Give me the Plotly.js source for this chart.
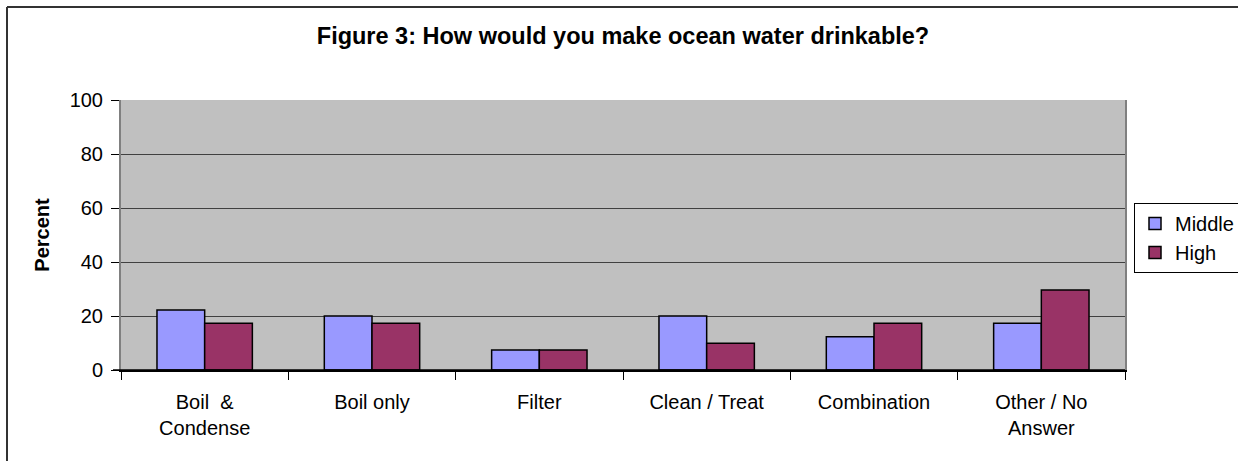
<!DOCTYPE html>
<html>
<head>
<meta charset="utf-8">
<script src="https://cdn.plot.ly/plotly-3.0.1.min.js"></script>
<style>
  html, body { margin: 0; padding: 0; background: #fff; }
  #chart { width: 1238px; height: 461px; }
</style>
</head>
<body>
<div id="chart"></div>
<script>
// Survey answers by school level (percent of respondents)
const categories = ["Boil  &<br>Condense", "Boil only", "Filter", "Clean / Treat", "Combination", "Other / No<br>Answer"];
const middleValues = [22.2, 20.0, 7.4, 20.0, 12.3, 17.3];
const highValues = [17.3, 17.3, 7.4, 9.9, 17.3, 29.6];
const yTicks = [0, 20, 40, 60, 80, 100];

const W = 1238, H = 461;
const M = { l: 121, r: 113, t: 100, b: 91, autoexpand: false };
const pw = W - M.l - M.r, ph = H - M.t - M.b;
const px = x => (x - M.l) / pw;          // pixel -> paper x
const py = y => 1 - (y - M.t) / ph;      // pixel -> paper y

const FONT = "Liberation Sans, Arial, sans-serif";

const traces = [
  {
    type: "bar", name: "Middle", x: categories, y: middleValues,
    marker: { color: "#9999FF", line: { color: "#000", width: 1.5 } },
    hoverinfo: "skip"
  },
  {
    type: "bar", name: "High", x: categories, y: highValues,
    marker: { color: "#993366", line: { color: "#000", width: 1.5 } },
    hoverinfo: "skip"
  }
];

const layout = {
  width: W, height: H,
  margin: M,
  paper_bgcolor: "#fff",
  plot_bgcolor: "#C0C0C0",
  font: { family: FONT, size: 20, color: "#000" },
  barmode: "group",
  bargap: 0.43,
  bargroupgap: 0,
  showlegend: true,
  title: {
    text: "<b>Figure 3: How would you make ocean water drinkable?</b>",
    font: { family: FONT, size: 23.5, color: "#000" },
    xref: "container", yref: "container",
    x: 623 / W, xanchor: "center",
    y: 1 - 36 / H, yanchor: "middle"
  },
  xaxis: {
    type: "category",
    tickson: "boundaries",
    ticks: "outside", ticklen: 8, tickcolor: "#000", tickwidth: 1,
    showline: true, linecolor: "#000", linewidth: 1.5,
    showgrid: false, zeroline: false,
    tickfont: { family: FONT, size: 20, color: "#000" },
    ticklabelstandoff: 13,
    fixedrange: true
  },
  yaxis: {
    range: [0, 100],
    tickvals: yTicks,
    ticktext: yTicks.map(String),
    ticks: "outside", ticklen: 8, tickcolor: "#000", tickwidth: 1,
    showline: true, linecolor: "#808080", linewidth: 2, mirror: true,
    showgrid: true, gridcolor: "#404040", gridwidth: 1,
    zeroline: false,
    tickfont: { family: FONT, size: 20, color: "#000" },
    ticklabelstandoff: 4,
    title: { text: "<b>Percent</b>", font: { family: FONT, size: 20, color: "#000" }, standoff: 15 },
    fixedrange: true
  },
  legend: {
    x: px(1134), y: py(203), xanchor: "left", yanchor: "top",
    bgcolor: "#fff", bordercolor: "#000", borderwidth: 1,
    font: { family: FONT, size: 20, color: "#000" },
    itemwidth: 30,
    tracegroupgap: 0
  },
  shapes: [
    // outer frame of the figure
    { type: "line", xref: "paper", yref: "paper", x0: px(7), x1: px(W + 5), y0: py(7), y1: py(7), line: { color: "#333", width: 2 } },
    { type: "line", xref: "paper", yref: "paper", x0: px(7), x1: px(7), y0: py(7), y1: py(H + 5), line: { color: "#333", width: 2 } },
    // baseline at zero, extending across the left tick
    { type: "line", xref: "paper", yref: "y", x0: px(113), x1: 1, y0: 0, y1: 0, line: { color: "#000", width: 1.5 } }
  ]
};

Plotly.newPlot("chart", traces, layout, { displayModeBar: false, staticPlot: true });
</script>
</body>
</html>
